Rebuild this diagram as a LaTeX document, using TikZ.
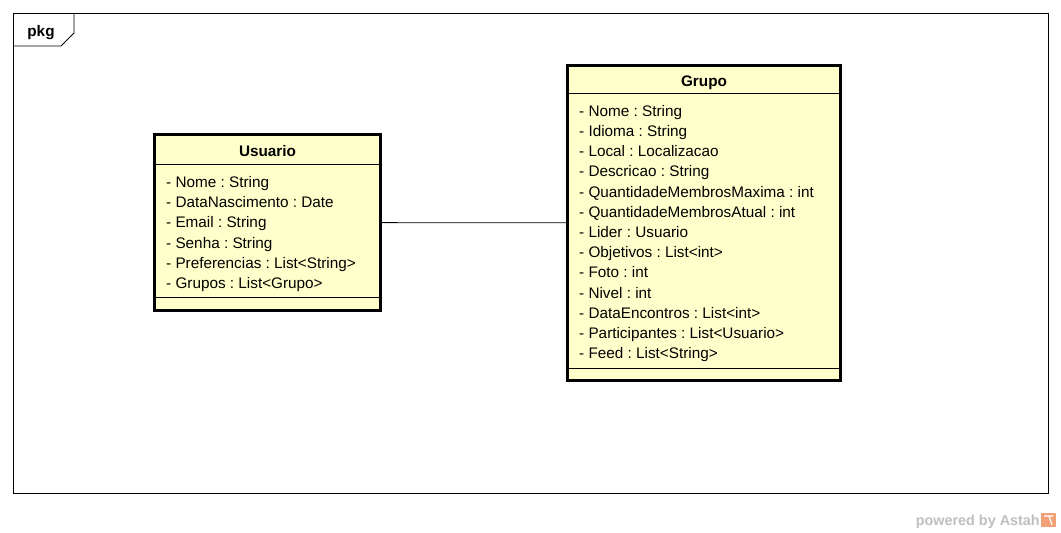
\documentclass[tikz,border=0pt]{standalone}
\usepackage{fontspec}
\setmainfont{Liberation Sans}
\usetikzlibrary{positioning}
\definecolor{classyellow}{RGB}{255,255,204}
\definecolor{astahgray}{RGB}{190,190,190}
\definecolor{astahorange}{RGB}{241,160,120}
\frenchspacing

\begin{document}
\begin{tikzpicture}[
        x=1pt, y=-1pt,
        classbox/.style={rectangle, draw=black, line width=2.8pt, fill=classyellow, inner sep=0pt},
        classname/.style={inner sep=0pt, font=\fontsize{15.3}{17}\selectfont\bfseries},
        attr/.style={anchor=base west, inner sep=0pt, font=\fontsize{15.3}{17}\selectfont},
        sep/.style={draw=black, line width=0.8pt},
        assoc/.style={draw=black, line width=0.8pt}
    ]
    \useasboundingbox (0,0) rectangle (1061,533);

    % Package frame with its tab
    \draw[line width=0.8pt] (13,13) rectangle (1048,493);
    \draw[line width=0.8pt] (13,46) -- (61,46) -- (74,33) -- (74,13);
    \node[classname, anchor=base] (pkg) at (41,36.5) {pkg};

    % Class Usuario
    \node[classbox, minimum width=226pt, minimum height=176pt] (usuario) at (267.5,222.5) {};
    \node[classname, anchor=base] (usuarioname) at (267.5,156.5) {Usuario};
    \draw[sep] ([yshift=-31pt]usuario.north west) -- ([yshift=-31pt]usuario.north east);
    \draw[sep] ([yshift=14.5pt]usuario.south west) -- ([yshift=14.5pt]usuario.south east);
    \foreach \a [count=\i] in {- Nome : String, - DataNascimento : Date, - Email : String,
        - Senha : String, - Preferencias : List<String>, - Grupos : List<Grupo>}
        \node[attr] (usuario-\i) at (166, 167.3+20.2*\i) {\a};

    % Class Grupo
    \node[classbox, minimum width=273pt, minimum height=315pt] (grupo) at (704,223) {};
    \node[classname, anchor=base] (gruponame) at (704,86.5) {Grupo};
    \draw[sep] ([yshift=-29pt]grupo.north west) -- ([yshift=-29pt]grupo.north east);
    \draw[sep] ([yshift=14pt]grupo.south west) -- ([yshift=14pt]grupo.south east);
    \foreach \a [count=\i] in {- Nome : String, - Idioma : String, - Local : Localizacao,
        - Descricao : String, - QuantidadeMembrosMaxima : int, - QuantidadeMembrosAtual : int,
        - Lider : Usuario, - Objetivos : List<int>, - Foto : int, - Nivel : int,
        - DataEncontros : List<int>, - Participantes : List<Usuario>, - Feed : List<String>}
        \node[attr] (grupo-\i) at (579, 96.3+20.17*\i) {\a};

    % Association
    \draw[assoc] (usuario) -- (grupo);

    % Watermark
    \node[anchor=base east, inner sep=0pt, text=astahgray, font=\fontsize{14.4}{16}\selectfont\bfseries] (powered) at (1040,525) {powered by Astah};
    \fill[astahorange] (1041,513) rectangle (1056,527);
    \draw[white, line width=1.2pt] (1044,516) -- (1053,516) (1049,516) -- (1052,525);
\end{tikzpicture}
\end{document}
